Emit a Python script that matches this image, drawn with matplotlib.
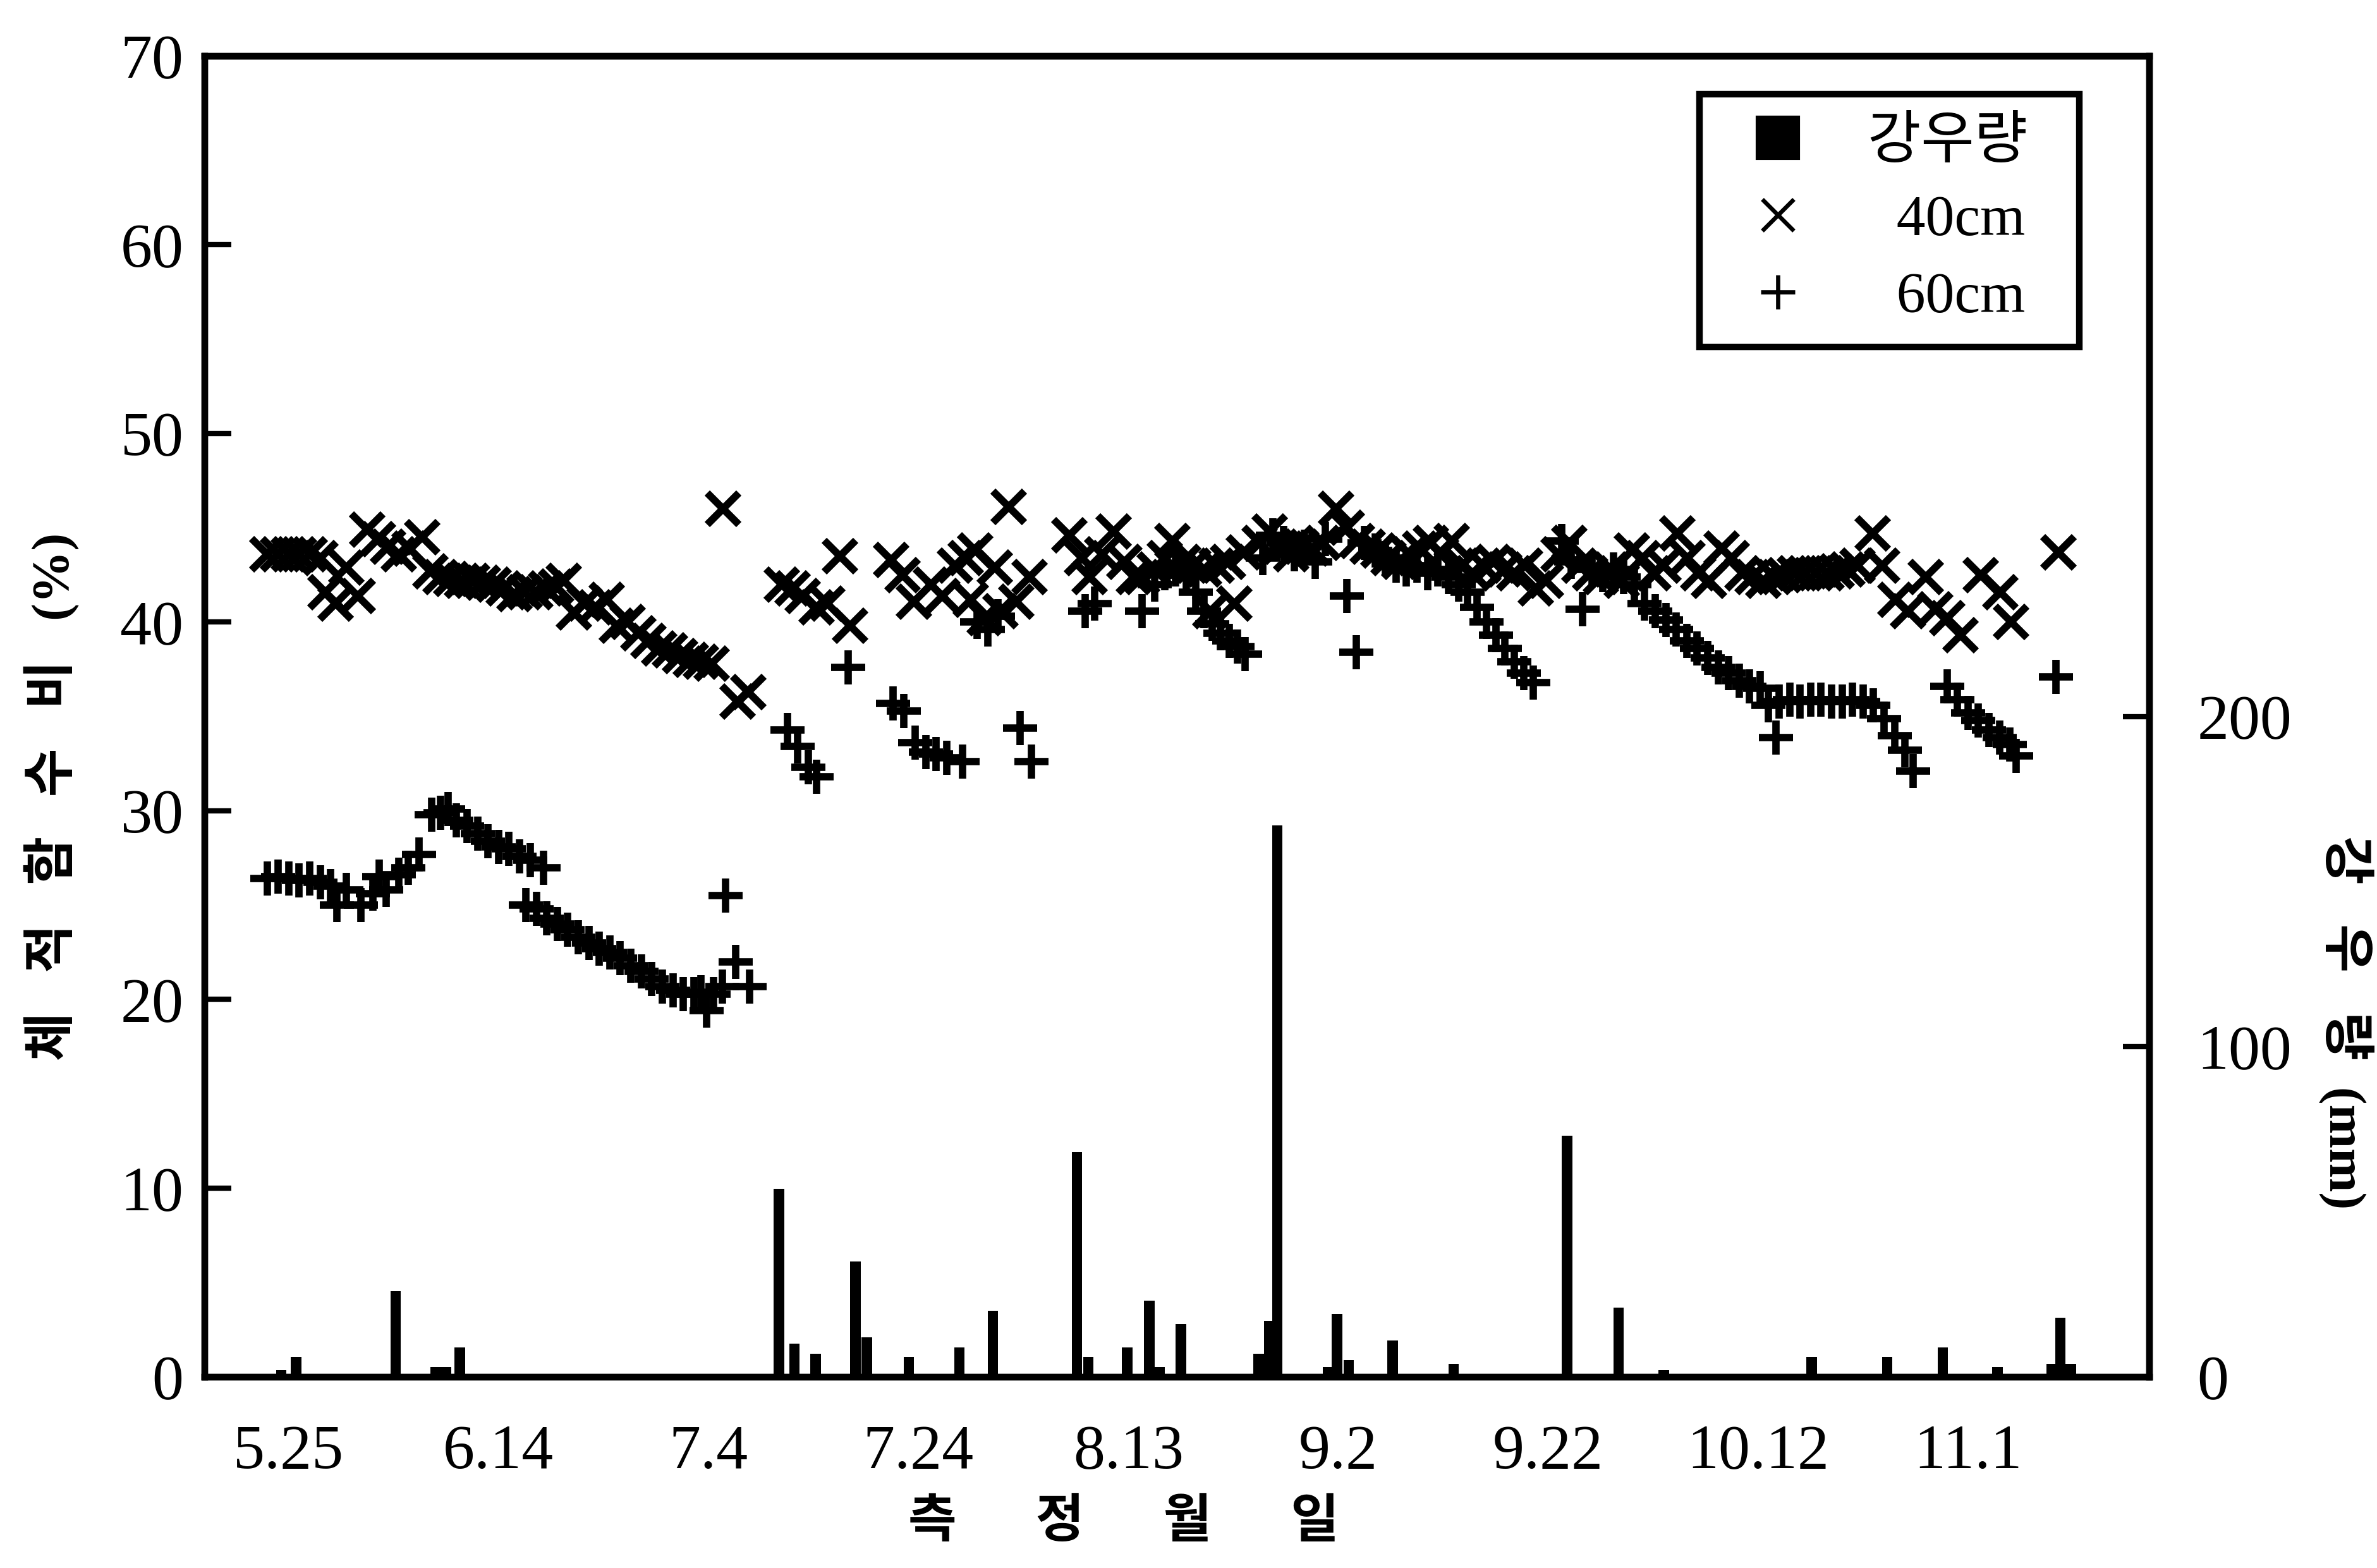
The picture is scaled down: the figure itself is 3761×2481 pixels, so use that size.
import matplotlib
matplotlib.use('Agg')
import matplotlib.pyplot as plt
from matplotlib.lines import Line2D

plt.rcParams['font.family'] = ['Liberation Serif', 'Noto Sans CJK KR']

# day offsets from 5.25 (measurement date)
tick_days = [0, 20, 40, 60, 80, 100, 120, 140, 160]
tick_labels = ['5.25', '6.14', '7.4', '7.24', '8.13', '9.2', '9.22', '10.12', '11.1']

# 40cm volumetric water content (%)
d40 = [-2, -1, 0, 1, 2, 3, 3.5, 4.5, 5.5, 6.6, 7.5, 8.5, 9.5, 10.5, 11.5, 12.7,
       13.5, 14.5, 15.5, 16.5, 17.5, 18.5, 19.5, 20.5, 21.5, 22.5, 23.5, 24.5, 25.5,
       26.2, 27.2, 28.2, 29.2, 30.3, 31.3, 32.3, 33.3, 34.3, 35.3, 36.3, 37.3, 38.3,
       39.3, 40.3, 41.4, 42.8, 43.8,
       47.0, 48.0, 49.0, 50.3, 51.3, 52.5, 53.5, 57.4, 58.5, 59.6, 61.2, 62.3, 63.5,
       64.5, 65.4, 65.0, 66.3, 67.3, 67.8, 68.6, 69.3, 70.6,
       74.4, 75.6, 76.3, 77.5, 78.6, 79.6, 80.5, 81.3, 82.5, 83.5, 84.2, 85.2, 86.2,
       87.2, 87.8, 88.4, 89.5, 90.1, 91.0, 92.5, 93.5, 94.5, 95.5, 96.5, 97.5, 98.5,
       99.8, 100.8, 101.8, 102.8, 103.8, 104.8, 105.8, 106.8, 107.8, 108.8, 109.8,
       110.8, 111.8, 112.8, 113.8, 114.8, 115.8, 116.8, 117.8, 118.8, 119.8,
       121.0, 122.0, 123.0, 124.0, 125.0, 126.0, 127.0, 128.0, 129.0, 130.0, 131.0,
       132.3, 133.3, 134.3, 135.3, 136.5, 137.5, 138.5, 139.5, 140.5, 141.5, 142.5,
       143.5, 144.5, 145.5, 146.5, 147.5, 148.5, 149.5, 150.9, 151.8, 153.1, 154.3,
       156.0, 156.9, 158.0, 159.3, 161.2, 163.1, 164.1, 168.6]
v40 = [43.6, 43.6, 43.6, 43.6, 43.6, 43.4, 41.6, 41.0, 42.9, 41.4, 44.9, 44.4, 44.0, 43.6, 43.9, 44.5,
       42.7, 42.4, 42.3, 42.2, 42.2, 42.1, 42.0, 41.8, 41.5, 41.6, 41.6, 41.8, 41.9,
       42.2, 40.5, 41.0, 40.8, 41.2, 39.8, 40.0, 39.4, 39.0, 38.6, 38.5, 38.2, 38.0,
       37.9, 37.8, 46.0, 35.8, 36.3,
       42.0, 41.8, 41.4, 40.8, 41.0, 43.5, 39.8, 43.3, 42.5, 41.1, 42.0, 41.4, 43.0,
       43.4, 43.8, 41.2, 40.2, 42.9, 40.6, 46.1, 41.1, 42.4,
       44.6, 43.4, 42.4, 43.6, 44.8, 43.2, 42.4, 42.4, 42.8, 43.4, 44.3, 43.2, 43.0,
       42.8, 40.6, 43.0, 43.2, 41.0, 43.7, 44.2, 44.8, 44.0, 43.6, 44.0, 43.9, 44.2,
       46.0, 45.0, 44.3, 44.0, 43.8, 43.4, 43.2, 43.6, 43.9, 44.2, 43.6,
       44.3, 43.0, 42.6, 43.0, 43.2, 42.8, 42.6, 43.0, 41.8, 42.2,
       43.6, 44.2, 43.0, 42.6, 42.4, 42.8, 42.2, 43.8, 43.4, 42.6, 43.0,
       44.7, 43.4, 42.6, 42.2, 43.9, 43.4, 42.6, 42.4, 42.2, 42.4, 42.5,
       42.6, 42.6, 42.6, 42.6, 42.7, 42.8, 43.0, 44.7, 43.0, 41.2, 40.6,
       42.4, 40.7, 40.2, 39.3, 42.5, 41.6, 40.0, 43.7]

# 60cm volumetric water content (%)
d60 = [-2, -1, 0, 1, 2, 3, 4, 4.6, 5.5, 6.9, 8.0, 8.6, 9.3, 10.5, 11.4, 12.4,
       13.6, 14.5, 15.2, 16.0, 17.0, 18.0, 19.0, 20.0, 21.0, 22.0, 23.0, 24.3,
       22.6, 23.6, 24.6, 25.6, 26.6, 27.6, 28.6, 29.6, 30.6, 31.6, 32.6, 33.6, 34.6,
       35.6, 36.6, 37.6, 38.6, 39.3, 39.8, 40.5, 41.3, 41.6, 42.6, 43.9,
       47.5, 48.5, 49.5, 50.3, 53.3, 57.6, 58.6, 59.7, 60.7, 61.7, 62.7, 64.2,
       65.6, 66.6, 67.6, 69.7, 70.8,
       75.9, 76.8, 81.3, 82.5, 83.5, 84.5, 85.5, 86.4, 87.2, 88.0, 88.8, 89.6, 90.4,
       91.1, 92.8, 93.8, 94.8, 95.8, 96.8, 97.8, 98.8, 100.8, 101.7,
       102.5, 103.5, 104.5, 105.5, 106.5, 107.5, 108.5, 109.5, 110.5, 111.5,
       112.3, 113.2, 114.1, 115.0, 115.9, 116.8, 117.7, 118.6,
       121.3, 122.2, 123.3, 124.2, 125.2, 126.2, 127.2, 128.2, 129.2, 130.2, 131.2,
       132.2, 133.2, 134.2, 135.2, 136.2, 137.2, 138.2, 139.2, 140.2, 141.0, 141.7,
       142.0, 143.0, 144.0, 145.0, 146.0, 147.0, 148.0, 149.0, 150.0, 151.0, 152.0,
       153.0, 154.0, 154.8, 158.0, 159.0, 160.0, 161.0, 162.0, 163.0, 164.0, 164.6,
       168.4]
v60 = [26.4, 26.5, 26.4, 26.3, 26.4, 26.2, 26.0, 25.0, 25.8, 25.0, 25.6, 26.5, 25.8, 26.6, 27.0, 27.7,
       29.8, 29.9, 30.1, 29.5, 29.2, 28.8, 28.4, 28.1, 28.0, 27.6, 27.4, 27.0,
       25.0, 24.8, 24.3, 24.0, 23.7, 23.3, 23.0, 22.7, 22.5, 22.2, 21.8, 21.5, 21.1,
       20.7, 20.5, 20.3, 20.3, 20.4, 19.4, 20.3, 20.7, 25.5, 22.0, 20.7,
       34.3, 33.4, 32.3, 31.8, 37.6, 35.7, 35.3, 33.6, 33.1, 33.0, 32.8, 32.6,
       40.0, 39.6, 40.3, 34.4, 32.6,
       40.6, 41.0, 40.6, 42.0, 42.6, 42.8, 42.5, 41.6, 40.6, 39.9, 39.4, 39.0, 38.7,
       38.3, 43.4, 44.6, 44.2, 43.6, 44.0, 43.2, 44.4, 41.4, 38.4,
       44.2, 43.8, 43.4, 43.0, 42.8, 43.0, 42.6, 42.8, 42.4, 42.0,
       41.6, 40.8, 40.0, 39.3, 38.6, 37.9, 37.3, 36.8,
       44.3, 43.2, 40.7, 42.8, 42.5, 42.8, 42.4, 42.0, 41.0, 40.6, 40.1,
       39.6, 39.0, 38.6, 38.1, 37.6, 37.3, 36.9, 36.6, 36.5, 35.6, 33.9,
       35.8, 35.9, 35.8, 35.9, 35.9, 35.8, 35.8, 35.9, 35.8, 35.6, 34.9,
       34.0, 33.2, 32.1, 36.6, 35.9, 35.2, 34.8, 34.3, 33.9, 33.5, 32.9,
       37.1]

# rainfall (mm)
rain_days = [-0.7, 0.7, 10.2, 14, 15, 16.3, 46.7, 48.2, 50.2, 54, 55.1, 59.1, 63.9, 67.1,
             75.1, 76.2, 79.9, 82, 83, 85, 92.4, 93.4, 94.2, 99, 99.9, 101, 105.2, 111,
             121.8, 126.7, 131, 145.1, 152.3, 157.6, 162.8, 168, 168.8, 169.8]
rain_mm = [2, 6, 26, 3, 3, 9, 57, 10, 7, 35, 12, 6, 9, 20,
           68, 6, 9, 23, 3, 16, 7, 17, 167, 3, 19, 5, 11, 4,
           73, 21, 2, 6, 6, 9, 3, 4, 18, 4]

fig = plt.figure(figsize=(12.537, 8.27), dpi=300)
ax = fig.add_axes([0.0861, 0.1219, 0.8182, 0.8423])
ax2 = ax.twinx()

ax2.bar(rain_days, rain_mm, width=1.0, color='black')
ax2.set_ylim(0, 400)
ax2.set_yticks([0, 100, 200])
ax2.tick_params(axis='y', direction='in', length=10, width=2, pad=18, labelsize=24)

l40, = ax.plot(d40, v40, linestyle='none', marker='x', markersize=12, mew=2.8,
               color='black')
l60, = ax.plot(d60, v60, linestyle='none', marker='+', markersize=13, mew=2.8,
               color='black')

ax.set_zorder(ax2.get_zorder() + 1)
ax.patch.set_visible(False)

ax.set_xlim(-8, 177.3)
ax.set_ylim(0, 70)
ax.set_yticks(range(0, 71, 10))
ax.set_xticks(tick_days)
ax.set_xticklabels(tick_labels)
ax.tick_params(axis='y', direction='in', length=10, width=2, pad=8, labelsize=24)
ax.tick_params(axis='x', length=0, pad=18, labelsize=24)

for a in (ax, ax2):
    for s in a.spines.values():
        s.set_linewidth(2.5)

rain_handle = Line2D([], [], linestyle='none', marker='s', markersize=16, color='black')
h40 = Line2D([], [], linestyle='none', marker='x', markersize=12, mew=1.6, color='black')
h60 = Line2D([], [], linestyle='none', marker='+', markersize=13, mew=1.6, color='black')
leg = ax.legend([rain_handle, h40, h60], ['강우량  ', '  40cm', '  60cm'], loc='upper right',
                bbox_to_anchor=(0.964, 0.971), borderaxespad=0, fontsize=22,
                frameon=True, fancybox=False, edgecolor='black', framealpha=1,
                handlelength=1.9, handletextpad=0.6, labelspacing=0.42, borderpad=0.4)
leg.get_frame().set_linewidth(2.5)

fig.text(0.022, 0.492, '체   적   함   수   비   (%)', rotation=90,
         ha='center', va='center', fontsize=20, fontweight='bold')
fig.text(0.987, 0.348, '강   우   량  (mm)', rotation=270,
         ha='center', va='center', fontsize=20, fontweight='bold')
fig.text(0.4726, 0.028, '측\u3000  정\u3000  월\u3000  일',
         ha='center', va='center', fontsize=20, fontweight='bold')

fig.savefig('out.png', dpi=300)
